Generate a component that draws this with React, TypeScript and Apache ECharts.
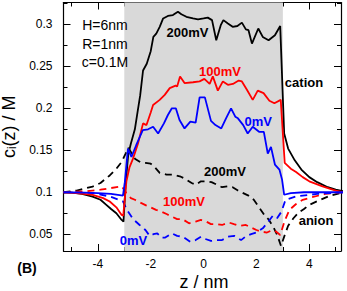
import React, { useEffect, useRef } from "react";
import * as echarts from "echarts";

// cation profiles (solid)
const cation200: number[][] = [
  [-5.3, 0.1], [-5.0, 0.0995], [-4.6, 0.098], [-4.2, 0.0948], [-3.9, 0.091], [-3.68, 0.085], [-3.5, 0.08], [-3.3, 0.075], [-3.1, 0.067], [-3.03, 0.065],
  [-2.95, 0.11], [-2.85, 0.145], [-2.75, 0.158], [-2.6, 0.175], [-2.5, 0.195], [-2.4, 0.215], [-2.29, 0.245], [-2.15, 0.253], [-2.0, 0.268],
  [-1.9, 0.285], [-1.79, 0.289], [-1.66, 0.297], [-1.53, 0.307], [-1.35, 0.31], [-1.16, 0.311], [-0.97, 0.315], [-0.84, 0.312], [-0.65, 0.309],
  [-0.4, 0.307], [-0.21, 0.306], [0.0, 0.307], [0.16, 0.308], [0.32, 0.305], [0.48, 0.281], [0.65, 0.299], [0.75, 0.305], [0.92, 0.301],
  [1.1, 0.297], [1.28, 0.298], [1.45, 0.302], [1.6, 0.294], [1.7, 0.293], [1.83, 0.277], [2.07, 0.295], [2.24, 0.285], [2.46, 0.281],
  [2.7, 0.287], [2.9, 0.298], [3.05, 0.17], [3.2, 0.152], [3.45, 0.138], [3.7, 0.127], [4.0, 0.118], [4.3, 0.112], [4.7, 0.106], [5.0, 0.103], [5.3, 0.101],
];
const cation100: number[][] = [
  [-5.3, 0.1], [-4.8, 0.099], [-4.2, 0.0968], [-3.8, 0.093], [-3.55, 0.089], [-3.3, 0.082], [-3.1, 0.073], [-3.04, 0.072],
  [-2.92, 0.113], [-2.8, 0.13], [-2.67, 0.14], [-2.48, 0.158], [-2.29, 0.182], [-2.16, 0.18], [-2.0, 0.195], [-1.91, 0.204], [-1.66, 0.21],
  [-1.47, 0.216], [-1.28, 0.224], [-1.06, 0.227], [-1.0, 0.226], [-0.89, 0.238], [-0.72, 0.23], [-0.4, 0.231], [-0.15, 0.232], [0.03, 0.235],
  [0.23, 0.229], [0.35, 0.238], [0.54, 0.221], [0.73, 0.232], [0.92, 0.228], [1.11, 0.229], [1.33, 0.233], [1.45, 0.232], [1.64, 0.222],
  [1.86, 0.21], [2.05, 0.221], [2.27, 0.218], [2.49, 0.209], [2.68, 0.206], [2.92, 0.21], [3.07, 0.135], [3.3, 0.128], [3.5, 0.124],
  [3.75, 0.118], [4.0, 0.113], [4.5, 0.107], [5.0, 0.102], [5.3, 0.1],
];
const cation0: number[][] = [
  [-5.3, 0.1], [-4.5, 0.0995], [-4.0, 0.099], [-3.5, 0.098], [-3.05, 0.096], [-2.98, 0.112], [-2.86, 0.152], [-2.73, 0.142], [-2.55, 0.156],
  [-2.3, 0.174], [-2.1, 0.175], [-1.91, 0.178], [-1.72, 0.17], [-1.5, 0.182], [-1.35, 0.192], [-1.2, 0.2], [-1.05, 0.2], [-0.91, 0.186],
  [-0.72, 0.176], [-0.5, 0.184], [-0.3, 0.183], [-0.15, 0.213], [0.05, 0.213], [0.28, 0.185], [0.45, 0.18], [0.67, 0.176], [0.85, 0.188],
  [1.04, 0.2], [1.2, 0.19], [1.3, 0.188], [1.5, 0.18], [1.67, 0.17], [1.86, 0.178], [2.1, 0.172], [2.28, 0.172], [2.43, 0.146],
  [2.55, 0.154], [2.7, 0.133], [2.87, 0.127], [2.97, 0.115], [3.05, 0.097], [3.3, 0.099], [3.8, 0.1], [5.3, 0.1],
];

// anion profiles (dashed)
const anion200: number[][] = [
  [-5.3, 0.1], [-4.8, 0.102], [-4.2, 0.1067], [-3.9, 0.111], [-3.55, 0.12], [-3.3, 0.128], [-3.1, 0.136], [-2.95, 0.146], [-2.85, 0.153],
  [-2.75, 0.148], [-2.6, 0.14], [-2.4, 0.136], [-2.2, 0.135], [-2.0, 0.134], [-1.85, 0.13], [-1.66, 0.123], [-1.4, 0.121], [-1.16, 0.121],
  [-0.9, 0.119], [-0.7, 0.116], [-0.45, 0.111], [-0.3, 0.109], [-0.1, 0.113], [0.1, 0.113], [0.3, 0.112], [0.5, 0.109], [0.7, 0.106],
  [0.9, 0.107], [1.1, 0.106], [1.3, 0.102], [1.5, 0.099], [1.7, 0.096], [1.9, 0.091], [2.1, 0.082], [2.3, 0.073], [2.45, 0.068],
  [2.65, 0.058], [2.8, 0.048], [2.93, 0.036], [3.06, 0.048], [3.2, 0.06], [3.4, 0.069], [3.6, 0.076], [3.8, 0.08], [4.0, 0.085],
  [4.35, 0.09], [4.8, 0.096], [5.3, 0.1],
];
const anion100: number[][] = [
  [-5.3, 0.1], [-4.5, 0.101], [-3.9, 0.103], [-3.5, 0.105], [-3.1, 0.107], [-2.92, 0.099], [-2.75, 0.093], [-2.6, 0.091], [-2.35, 0.087],
  [-2.16, 0.084], [-2.0, 0.082], [-1.8, 0.079], [-1.6, 0.077], [-1.4, 0.074], [-1.2, 0.071], [-1.0, 0.068], [-0.8, 0.068], [-0.55, 0.063],
  [-0.3, 0.065], [-0.1, 0.067], [0.1, 0.065], [0.28, 0.062], [0.5, 0.062], [0.7, 0.061], [0.95, 0.064], [1.15, 0.062], [1.36, 0.06],
  [1.6, 0.061], [1.8, 0.058], [2.0, 0.055], [2.2, 0.053], [2.4, 0.052], [2.6, 0.055], [2.75, 0.053], [2.9, 0.049], [3.07, 0.066],
  [3.25, 0.079], [3.5, 0.086], [3.75, 0.091], [4.1, 0.094], [4.6, 0.098], [5.3, 0.1],
];
const anion0: number[][] = [
  [-5.3, 0.1], [-4.2, 0.099], [-3.55, 0.095], [-3.2, 0.091], [-3.05, 0.089], [-2.9, 0.079], [-2.67, 0.068], [-2.42, 0.061], [-2.2, 0.055],
  [-2.04, 0.048], [-1.9, 0.05], [-1.75, 0.051], [-1.6, 0.046], [-1.45, 0.046], [-1.2, 0.051], [-1.0, 0.048], [-0.78, 0.047], [-0.5, 0.041],
  [-0.3, 0.043], [-0.1, 0.047], [0.1, 0.044], [0.28, 0.042], [0.5, 0.043], [0.7, 0.043], [0.92, 0.047], [1.16, 0.048], [1.42, 0.043],
  [1.62, 0.048], [1.8, 0.05], [2.0, 0.052], [2.24, 0.057], [2.45, 0.065], [2.62, 0.072], [2.78, 0.069], [2.95, 0.077], [3.1, 0.091],
  [3.5, 0.095], [4.3, 0.098], [5.3, 0.1],
];

const poreRange = [-3, 3];
const xMajor = [-4, -2, 0, 2, 4];
const xMinor = [-5, -3, -1, 1, 3, 5];
const yMajor = [0.05, 0.1, 0.15, 0.2, 0.25, 0.3];
const yMinor = [0.075, 0.125, 0.175, 0.225, 0.275, 0.325];

const FONT = "Liberation Sans, Arial, Helvetica, sans-serif";

function xAx(pos: string, ticks: number[], len: number, labels: boolean, line: boolean) {
  return {
    type: "value", position: pos, min: -5.3, max: 5.2,
    axisLine: { show: line, onZero: false, lineStyle: { color: "#000", width: 1.2 } },
    axisTick: { show: true, inside: true, length: len, customValues: ticks, lineStyle: { color: "#000", width: 1 } },
    axisLabel: { show: labels, customValues: ticks, color: "#000", fontSize: 12, fontFamily: FONT, margin: 7 },
    splitLine: { show: false },
  };
}
function yAx(pos: string, ticks: number[], len: number, labels: boolean, line: boolean, extra: any = {}) {
  return {
    type: "value", position: pos, min: 0.03, max: 0.326,
    axisLine: { show: line, onZero: false, lineStyle: { color: "#000", width: 1.2 } },
    axisTick: { show: true, inside: true, length: len, customValues: ticks, lineStyle: { color: "#000", width: 1 } },
    axisLabel: { show: labels, customValues: ticks, color: "#000", fontSize: 12, fontFamily: FONT, margin: 11 },
    splitLine: { show: false },
    ...extra,
  };
}

function lineSeries(data: number[][], color: string, dashed: boolean) {
  return {
    type: "line", data, xAxisIndex: 0, yAxisIndex: 0, showSymbol: false, symbol: "none", z: 3,
    lineStyle: { color, width: 1.8, type: dashed ? [7, 5] : "solid" },
  };
}

function label(text: string, x: number, y: number, color: string, size = 13, bold = true) {
  return {
    type: "text", x, y, z: 100,
    style: { text, fill: color, font: `${bold ? "bold " : ""}${size}px ${FONT}`, align: "center", verticalAlign: "middle" },
  };
}

export default function App() {
  const ref = useRef<HTMLDivElement>(null);
  useEffect(() => {
    const chart = echarts.init(ref.current!, null, { renderer: "svg" });
    chart.setOption({
      animation: false,
      backgroundColor: "#fff",
      grid: { left: 63.5, right: 6, top: 2.5, bottom: 40, outerBoundsMode: "none", containLabel: false },
      xAxis: [
        xAx("bottom", xMajor, 7, true, true),
        xAx("bottom", xMinor, 4, false, false),
        xAx("top", xMajor, 7, false, true),
        xAx("top", xMinor, 4, false, false),
      ],
      yAxis: [
        yAx("left", yMajor, 7, true, true, {
          name: "c{sub|i}(z) / M", nameLocation: "middle", nameGap: 42, nameRotate: 90,
          nameTextStyle: { fontSize: 18, color: "#000", fontFamily: FONT, rich: { sub: { fontSize: 12, color: "#000", fontFamily: FONT, verticalAlign: "bottom", lineHeight: 14 } } },
        }),
        yAx("left", yMinor, 4, false, false),
        yAx("right", yMajor, 7, false, true),
        yAx("right", yMinor, 4, false, false),
      ],
      series: [
        {
          type: "line", data: [], xAxisIndex: 0, yAxisIndex: 0, z: 1, silent: true,
          markArea: { silent: true, itemStyle: { color: "#d9d9d9" }, data: [[{ xAxis: poreRange[0] }, { xAxis: poreRange[1] }]] },
        },
        lineSeries(anion200, "#000", true),
        lineSeries(anion100, "#ff0000", true),
        lineSeries(anion0, "#0000ff", true),
        lineSeries(cation200, "#000", false),
        lineSeries(cation100, "#ff0000", false),
        lineSeries(cation0, "#0000ff", false),
      ],
      graphic: [
        label("H=6nm", 105, 25, "#000", 14, false),
        label("R=1nm", 105, 43.5, "#000", 14, false),
        label("c=0.1M", 105, 62, "#000", 14, false),
        label("200mV", 187.5, 32, "#000"),
        label("100mV", 220, 71.7, "#ff0000"),
        label("0mV", 258.3, 121, "#0000ff"),
        label("cation", 304, 82.7, "#000"),
        label("200mV", 225, 171.7, "#000"),
        label("100mV", 184, 201.7, "#ff0000"),
        label("0mV", 133.5, 240, "#0000ff"),
        label("anion", 316, 220.7, "#000"),
        label("(B)", 27, 268.3, "#000", 14),
        label("z / nm", 204, 282, "#000", 18, false),
      ],
    });
    return () => chart.dispose();
  }, []);
  return <div ref={ref} style={{ position: "fixed", left: 0, top: 0, width: 347, height: 291 }} />;
}
